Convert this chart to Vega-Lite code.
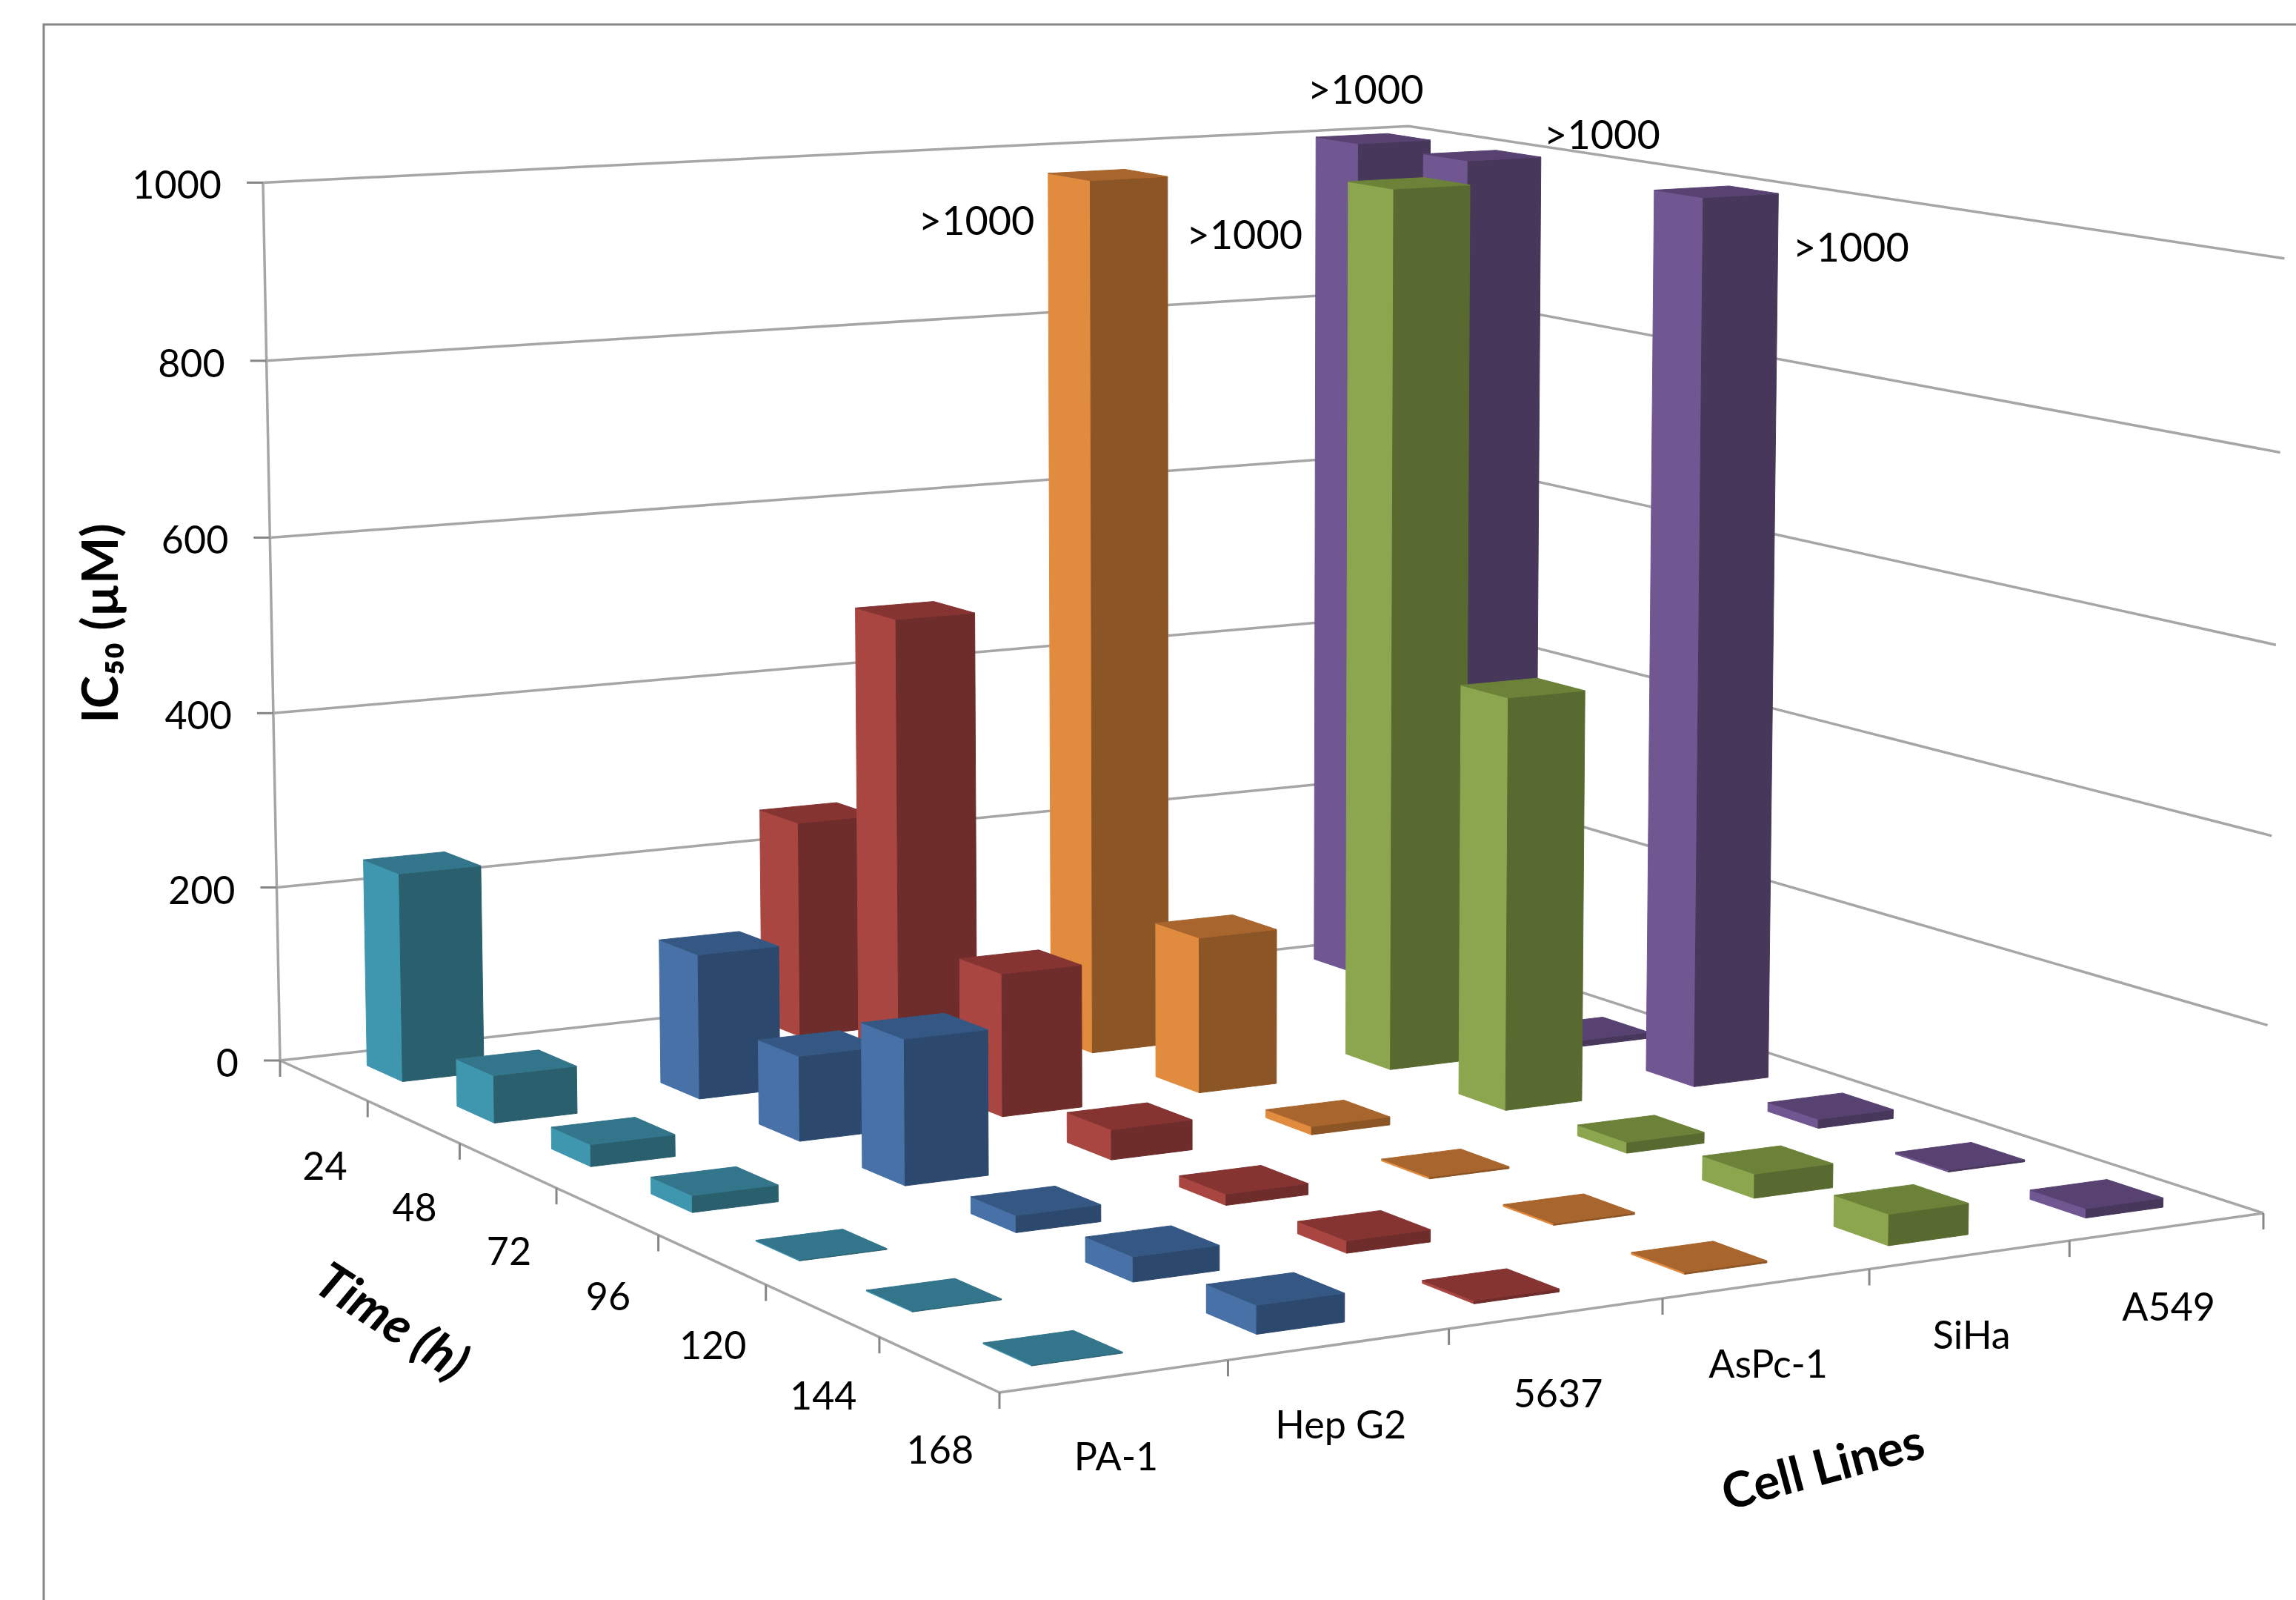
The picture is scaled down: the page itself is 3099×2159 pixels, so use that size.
{
  "$schema": "https://vega.github.io/schema/vega-lite/v6.json",
  "width": 3045,
  "height": 2131,
  "autosize": {"type": "none"},
  "padding": {"left": 59, "top": 33, "right": 0, "bottom": 0},
  "background": "#ffffff",
  "view": {"stroke": "#868686", "strokeWidth": 3, "fill": "#ffffff"},
  "config": {"text": {"font": "Lato", "fontSize": 52, "color": "#000000"}},
  "datasets": {
    "ic50": [
      {"line": "A549", "time": 24, "value": 1000},
      {"line": "PA-1", "time": 24, "value": 237},
      {"line": "5637", "time": 24, "value": 250},
      {"line": "A549", "time": 48, "value": 1000},
      {"line": "AsPc-1", "time": 48, "value": 1000},
      {"line": "5637", "time": 48, "value": 520},
      {"line": "Hep G2", "time": 48, "value": 163},
      {"line": "PA-1", "time": 48, "value": 53},
      {"line": "A549", "time": 72, "value": 7},
      {"line": "SiHa", "time": 72, "value": 1000},
      {"line": "AsPc-1", "time": 72, "value": 176},
      {"line": "5637", "time": 72, "value": 160},
      {"line": "Hep G2", "time": 72, "value": 94},
      {"line": "PA-1", "time": 72, "value": 24},
      {"line": "A549", "time": 96, "value": 1000},
      {"line": "SiHa", "time": 96, "value": 462},
      {"line": "AsPc-1", "time": 96, "value": 9},
      {"line": "5637", "time": 96, "value": 33},
      {"line": "Hep G2", "time": 96, "value": 158},
      {"line": "PA-1", "time": 96, "value": 18},
      {"line": "A549", "time": 120, "value": 10},
      {"line": "SiHa", "time": 120, "value": 12},
      {"line": "AsPc-1", "time": 120, "value": 2},
      {"line": "5637", "time": 120, "value": 12},
      {"line": "Hep G2", "time": 120, "value": 18},
      {"line": "PA-1", "time": 120, "value": 1},
      {"line": "A549", "time": 144, "value": 2},
      {"line": "SiHa", "time": 144, "value": 26},
      {"line": "AsPc-1", "time": 144, "value": 2},
      {"line": "5637", "time": 144, "value": 13},
      {"line": "Hep G2", "time": 144, "value": 26},
      {"line": "PA-1", "time": 144, "value": 1},
      {"line": "A549", "time": 168, "value": 10},
      {"line": "SiHa", "time": 168, "value": 33},
      {"line": "AsPc-1", "time": 168, "value": 2},
      {"line": "5637", "time": 168, "value": 3},
      {"line": "Hep G2", "time": 168, "value": 29},
      {"line": "PA-1", "time": 168, "value": 1}
    ],
    "frameEdges": [
      {"edge": "level 0", "cellPos": 0, "timePos": 0, "level": 0},
      {"edge": "level 0", "cellPos": 6, "timePos": 0, "level": 0},
      {"edge": "level 0", "cellPos": 6, "timePos": 7, "level": 0},
      {"edge": "level 200", "cellPos": 0, "timePos": 0, "level": 200},
      {"edge": "level 200", "cellPos": 6, "timePos": 0, "level": 200},
      {"edge": "level 200", "cellPos": 6, "timePos": 7, "level": 200},
      {"edge": "level 400", "cellPos": 0, "timePos": 0, "level": 400},
      {"edge": "level 400", "cellPos": 6, "timePos": 0, "level": 400},
      {"edge": "level 400", "cellPos": 6, "timePos": 7, "level": 400},
      {"edge": "level 600", "cellPos": 0, "timePos": 0, "level": 600},
      {"edge": "level 600", "cellPos": 6, "timePos": 0, "level": 600},
      {"edge": "level 600", "cellPos": 6, "timePos": 7, "level": 600},
      {"edge": "level 800", "cellPos": 0, "timePos": 0, "level": 800},
      {"edge": "level 800", "cellPos": 6, "timePos": 0, "level": 800},
      {"edge": "level 800", "cellPos": 6, "timePos": 7, "level": 800},
      {"edge": "level 1000", "cellPos": 0, "timePos": 0, "level": 1000},
      {"edge": "level 1000", "cellPos": 6, "timePos": 0, "level": 1000},
      {"edge": "level 1000", "cellPos": 6, "timePos": 7, "level": 1000},
      {"edge": "value axis", "cellPos": 0, "timePos": 0, "level": 0},
      {"edge": "value axis", "cellPos": 0, "timePos": 0, "level": 1000},
      {"edge": "time axis", "cellPos": 0, "timePos": 0, "level": 0},
      {"edge": "time axis", "cellPos": 0, "timePos": 7, "level": 0},
      {"edge": "cell axis", "cellPos": 0, "timePos": 7, "level": 0},
      {"edge": "cell axis", "cellPos": 6, "timePos": 7, "level": 0}
    ],
    "ticks": [
      {"axis": "value", "cellPos": 0, "timePos": 0, "level": 0},
      {"axis": "value", "cellPos": 0, "timePos": 0, "level": 200},
      {"axis": "value", "cellPos": 0, "timePos": 0, "level": 400},
      {"axis": "value", "cellPos": 0, "timePos": 0, "level": 600},
      {"axis": "value", "cellPos": 0, "timePos": 0, "level": 800},
      {"axis": "value", "cellPos": 0, "timePos": 0, "level": 1000},
      {"axis": "time", "cellPos": 0, "timePos": 0, "level": 0},
      {"axis": "time", "cellPos": 0, "timePos": 1, "level": 0},
      {"axis": "time", "cellPos": 0, "timePos": 2, "level": 0},
      {"axis": "time", "cellPos": 0, "timePos": 3, "level": 0},
      {"axis": "time", "cellPos": 0, "timePos": 4, "level": 0},
      {"axis": "time", "cellPos": 0, "timePos": 5, "level": 0},
      {"axis": "time", "cellPos": 0, "timePos": 6, "level": 0},
      {"axis": "time", "cellPos": 0, "timePos": 7, "level": 0},
      {"axis": "cell", "cellPos": 1, "timePos": 7, "level": 0},
      {"axis": "cell", "cellPos": 2, "timePos": 7, "level": 0},
      {"axis": "cell", "cellPos": 3, "timePos": 7, "level": 0},
      {"axis": "cell", "cellPos": 4, "timePos": 7, "level": 0},
      {"axis": "cell", "cellPos": 5, "timePos": 7, "level": 0},
      {"axis": "cell", "cellPos": 6, "timePos": 7, "level": 0}
    ]
  },
  "encoding": {
    "x": {"field": "px", "type": "quantitative", "axis": null, "scale": {"domain": [59, 3104], "nice": false, "zero": false}},
    "y": {"field": "py", "type": "quantitative", "axis": null, "scale": {"domain": [2164, 33], "nice": false, "zero": false}}
  },
  "layer": [
    {
      "data": {"name": "frameEdges"},
      "transform": [
        {"calculate": "0.08618*datum.cellPos/6-0.16811*datum.timePos/7+1-0.018*datum.level/1000", "as": "w"},
        {"calculate": "(1682.5*datum.cellPos/6+744.2*datum.timePos/7+378-29.4*datum.level/1000)/datum.w", "as": "px"},
        {"calculate": "(-60.2*datum.cellPos/6+132.1*datum.timePos/7+1431-1189*datum.level/1000)/datum.w", "as": "py"}
      ],
      "mark": {"type": "line", "color": "#a6a6a6", "strokeWidth": 3.5, "clip": false},
      "encoding": {"detail": {"field": "edge"}}
    },
    {
      "data": {"name": "ticks"},
      "transform": [
        {"calculate": "0.08618*datum.cellPos/6-0.16811*datum.timePos/7+1-0.018*datum.level/1000", "as": "w"},
        {"calculate": "(1682.5*datum.cellPos/6+744.2*datum.timePos/7+378-29.4*datum.level/1000)/datum.w", "as": "px"},
        {"calculate": "(-60.2*datum.cellPos/6+132.1*datum.timePos/7+1431-1189*datum.level/1000)/datum.w", "as": "py"},
        {"calculate": "datum.axis=='value' ? datum.px-22 : datum.px", "as": "tickX"},
        {"calculate": "datum.axis=='value' ? datum.py : datum.py+22", "as": "tickY"}
      ],
      "mark": {"type": "rule", "color": "#868686", "strokeWidth": 3},
      "encoding": {
        "x2": {"field": "tickX"},
        "y2": {"field": "tickY"}
      }
    },
    {
      "data": {"name": "ic50"},
      "transform": [
        {"calculate": "['L','F','T']", "as": "face"},
        {"flatten": ["face"]},
        {"calculate": "[0,1,2,3]", "as": "corner"},
        {"flatten": ["corner"]},
        {"calculate": "indexof(['PA-1','Hep G2','5637','AsPc-1','SiHa','A549'],datum.line)", "as": "cellIdx"},
        {"calculate": "(datum.time-24)/24", "as": "timeIdx"},
        {"calculate": "datum.face=='L' ? datum.cellIdx+0.3 : ((datum.corner==1||datum.corner==2) ? datum.cellIdx+0.7 : datum.cellIdx+0.3)", "as": "cellPos"},
        {"calculate": "datum.face=='L' ? ((datum.corner==1||datum.corner==2) ? datum.timeIdx+0.7 : datum.timeIdx+0.3) : (datum.face=='F' ? datum.timeIdx+0.7 : (datum.corner>=2 ? datum.timeIdx+0.7 : datum.timeIdx+0.3))", "as": "timePos"},
        {"calculate": "datum.face=='T' ? datum.value : (datum.corner>=2 ? datum.value : 0)", "as": "level"},
        {"calculate": "0.08618*datum.cellPos/6-0.16811*datum.timePos/7+1-0.018*datum.level/1000", "as": "w"},
        {"calculate": "(1682.5*datum.cellPos/6+744.2*datum.timePos/7+378-29.4*datum.level/1000)/datum.w", "as": "px"},
        {"calculate": "(-60.2*datum.cellPos/6+132.1*datum.timePos/7+1431-1189*datum.level/1000)/datum.w", "as": "py"},
        {"calculate": "'t'+datum.time+' '+datum.line+' '+datum.face", "as": "faceId"},
        {"calculate": "datum.line+' '+datum.face", "as": "shade"}
      ],
      "mark": {"type": "line", "interpolate": "linear-closed", "strokeWidth": 1},
      "encoding": {
        "detail": {"field": "faceId"},
        "order": {"field": "corner"},
        "fill": {
          "field": "shade", "type": "nominal", "legend": null,
          "scale": {
            "domain": ["PA-1 L","PA-1 F","PA-1 T","Hep G2 L","Hep G2 F","Hep G2 T","5637 L","5637 F","5637 T","AsPc-1 L","AsPc-1 F","AsPc-1 T","SiHa L","SiHa F","SiHa T","A549 L","A549 F","A549 T"],
            "range": ["#3f97af","#2a5f6e","#33758a","#4771a7","#2c486c","#345883","#a94641","#6e2c2a","#853432","#e18b3e","#8c5526","#a8652d","#8ba64e","#596a30","#6b8238","#715791","#47375a","#574271"]
          }
        },
        "stroke": {
          "field": "shade", "type": "nominal", "legend": null,
          "scale": {
            "domain": ["PA-1 L","PA-1 F","PA-1 T","Hep G2 L","Hep G2 F","Hep G2 T","5637 L","5637 F","5637 T","AsPc-1 L","AsPc-1 F","AsPc-1 T","SiHa L","SiHa F","SiHa T","A549 L","A549 F","A549 T"],
            "range": ["#3f97af","#2a5f6e","#33758a","#4771a7","#2c486c","#345883","#a94641","#6e2c2a","#853432","#e18b3e","#8c5526","#a8652d","#8ba64e","#596a30","#6b8238","#715791","#47375a","#574271"]
          }
        }
      }
    },
    {
      "data": {"values": [{"level": 0}, {"level": 200}, {"level": 400}, {"level": 600}, {"level": 800}, {"level": 1000}]},
      "transform": [
        {"calculate": "1-0.018*datum.level/1000", "as": "w"},
        {"calculate": "(378-29.4*datum.level/1000)/datum.w", "as": "px"},
        {"calculate": "(1431-1189*datum.level/1000)/datum.w", "as": "py"}
      ],
      "mark": {"type": "text", "align": "right", "baseline": "middle", "dx": -56, "dy": 6},
      "encoding": {"text": {"field": "level", "type": "nominal"}}
    },
    {
      "data": {"values": [{"time": 24}, {"time": 48}, {"time": 72}, {"time": 96}, {"time": 120}, {"time": 144}, {"time": 168}]},
      "transform": [
        {"calculate": "(datum.time-24)/24+0.5", "as": "timePos"},
        {"calculate": "1-0.16811*datum.timePos/7", "as": "w"},
        {"calculate": "(744.2*datum.timePos/7+378)/datum.w", "as": "px"},
        {"calculate": "(132.1*datum.timePos/7+1431)/datum.w", "as": "py"}
      ],
      "mark": {"type": "text", "align": "center", "baseline": "middle", "dx": 2, "dy": 118},
      "encoding": {"text": {"field": "time", "type": "nominal"}}
    },
    {
      "data": {"values": [{"line": "PA-1"}, {"line": "Hep G2"}, {"line": "5637"}, {"line": "AsPc-1"}, {"line": "SiHa"}, {"line": "A549"}]},
      "transform": [
        {"calculate": "indexof(['PA-1','Hep G2','5637','AsPc-1','SiHa','A549'],datum.line)+0.5", "as": "cellPos"},
        {"calculate": "0.08618*datum.cellPos/6-0.16811+1", "as": "w"},
        {"calculate": "(1682.5*datum.cellPos/6+744.2+378)/datum.w", "as": "px"},
        {"calculate": "(-60.2*datum.cellPos/6+132.1+1431)/datum.w", "as": "py"}
      ],
      "mark": {"type": "text", "align": "center", "baseline": "middle", "dx": 2, "dy": 111},
      "encoding": {"text": {"field": "line", "type": "nominal"}}
    },
    {
      "data": {"values": [{"title": "Time (h)", "cellPos": 0, "timePos": 3.5, "level": 0}]},
      "transform": [
        {"calculate": "0.08618*datum.cellPos/6-0.16811*datum.timePos/7+1-0.018*datum.level/1000", "as": "w"},
        {"calculate": "(1682.5*datum.cellPos/6+744.2*datum.timePos/7+378-29.4*datum.level/1000)/datum.w", "as": "px"},
        {"calculate": "(-60.2*datum.cellPos/6+132.1*datum.timePos/7+1431-1189*datum.level/1000)/datum.w", "as": "py"}
      ],
      "mark": {"type": "text", "align": "center", "baseline": "middle", "fontWeight": "bold", "fontStyle": "italic", "fontSize": 68, "angle": 33, "dx": -162, "dy": 286},
      "encoding": {"text": {"field": "title", "type": "nominal"}}
    },
    {
      "data": {"values": [{"title": "Cell Lines", "cellPos": 3, "timePos": 7, "level": 0}]},
      "transform": [
        {"calculate": "0.08618*datum.cellPos/6-0.16811*datum.timePos/7+1-0.018*datum.level/1000", "as": "w"},
        {"calculate": "(1682.5*datum.cellPos/6+744.2*datum.timePos/7+378-29.4*datum.level/1000)/datum.w", "as": "px"},
        {"calculate": "(-60.2*datum.cellPos/6+132.1*datum.timePos/7+1431-1189*datum.level/1000)/datum.w", "as": "py"}
      ],
      "mark": {"type": "text", "align": "center", "baseline": "middle", "fontWeight": "bold", "fontSize": 66, "angle": 345, "dx": 150, "dy": 279},
      "encoding": {"text": {"field": "title", "type": "nominal"}}
    },
    {
      "data": {"values": [{"title": "IC₅₀ (µM)", "cellPos": 0, "timePos": 0, "level": 500}]},
      "transform": [
        {"calculate": "0.08618*datum.cellPos/6-0.16811*datum.timePos/7+1-0.018*datum.level/1000", "as": "w"},
        {"calculate": "(1682.5*datum.cellPos/6+744.2*datum.timePos/7+378-29.4*datum.level/1000)/datum.w", "as": "px"},
        {"calculate": "(-60.2*datum.cellPos/6+132.1*datum.timePos/7+1431-1189*datum.level/1000)/datum.w", "as": "py"}
      ],
      "mark": {"type": "text", "align": "center", "baseline": "middle", "fontWeight": "bold", "fontSize": 67, "angle": 270, "dx": 3, "dy": -228},
      "encoding": {"text": {"field": "title", "type": "nominal"}}
    },
    {
      "data": {"name": "ic50"},
      "transform": [
        {"filter": "datum.value>=1000 && datum.line=='AsPc-1'"},
        {"calculate": "indexof(['PA-1','Hep G2','5637','AsPc-1','SiHa','A549'],datum.line)+0.5", "as": "cellPos"},
        {"calculate": "(datum.time-24)/24+0.5", "as": "timePos"},
        {"calculate": "0.08618*datum.cellPos/6-0.16811*datum.timePos/7+1-0.018", "as": "w"},
        {"calculate": "(1682.5*datum.cellPos/6+744.2*datum.timePos/7+378-29.4)/datum.w", "as": "px"},
        {"calculate": "(-60.2*datum.cellPos/6+132.1*datum.timePos/7+1431-1189)/datum.w", "as": "py"}
      ],
      "mark": {"type": "text", "text": ">1000", "fontSize": 54, "align": "center", "baseline": "middle", "dx": -177, "dy": 65}
    },
    {
      "data": {"name": "ic50"},
      "transform": [
        {"filter": "datum.value>=1000 && datum.line=='SiHa'"},
        {"calculate": "indexof(['PA-1','Hep G2','5637','AsPc-1','SiHa','A549'],datum.line)+0.5", "as": "cellPos"},
        {"calculate": "(datum.time-24)/24+0.5", "as": "timePos"},
        {"calculate": "0.08618*datum.cellPos/6-0.16811*datum.timePos/7+1-0.018", "as": "w"},
        {"calculate": "(1682.5*datum.cellPos/6+744.2*datum.timePos/7+378-29.4)/datum.w", "as": "px"},
        {"calculate": "(-60.2*datum.cellPos/6+132.1*datum.timePos/7+1431-1189)/datum.w", "as": "py"}
      ],
      "mark": {"type": "text", "text": ">1000", "fontSize": 54, "align": "center", "baseline": "middle", "dx": -222, "dy": 73}
    },
    {
      "data": {"name": "ic50"},
      "transform": [
        {"filter": "datum.value>=1000 && datum.line=='A549' && datum.time==24"},
        {"calculate": "indexof(['PA-1','Hep G2','5637','AsPc-1','SiHa','A549'],datum.line)+0.5", "as": "cellPos"},
        {"calculate": "(datum.time-24)/24+0.5", "as": "timePos"},
        {"calculate": "0.08618*datum.cellPos/6-0.16811*datum.timePos/7+1-0.018", "as": "w"},
        {"calculate": "(1682.5*datum.cellPos/6+744.2*datum.timePos/7+378-29.4)/datum.w", "as": "px"},
        {"calculate": "(-60.2*datum.cellPos/6+132.1*datum.timePos/7+1431-1189)/datum.w", "as": "py"}
      ],
      "mark": {"type": "text", "text": ">1000", "fontSize": 54, "align": "center", "baseline": "middle", "dx": -10, "dy": -63}
    },
    {
      "data": {"name": "ic50"},
      "transform": [
        {"filter": "datum.value>=1000 && datum.line=='A549' && datum.time==48"},
        {"calculate": "indexof(['PA-1','Hep G2','5637','AsPc-1','SiHa','A549'],datum.line)+0.5", "as": "cellPos"},
        {"calculate": "(datum.time-24)/24+0.5", "as": "timePos"},
        {"calculate": "0.08618*datum.cellPos/6-0.16811*datum.timePos/7+1-0.018", "as": "w"},
        {"calculate": "(1682.5*datum.cellPos/6+744.2*datum.timePos/7+378-29.4)/datum.w", "as": "px"},
        {"calculate": "(-60.2*datum.cellPos/6+132.1*datum.timePos/7+1431-1189)/datum.w", "as": "py"}
      ],
      "mark": {"type": "text", "text": ">1000", "fontSize": 54, "align": "center", "baseline": "middle", "dx": 162, "dy": -25}
    },
    {
      "data": {"name": "ic50"},
      "transform": [
        {"filter": "datum.value>=1000 && datum.line=='A549' && datum.time==96"},
        {"calculate": "indexof(['PA-1','Hep G2','5637','AsPc-1','SiHa','A549'],datum.line)+0.5", "as": "cellPos"},
        {"calculate": "(datum.time-24)/24+0.5", "as": "timePos"},
        {"calculate": "0.08618*datum.cellPos/6-0.16811*datum.timePos/7+1-0.018", "as": "w"},
        {"calculate": "(1682.5*datum.cellPos/6+744.2*datum.timePos/7+378-29.4)/datum.w", "as": "px"},
        {"calculate": "(-60.2*datum.cellPos/6+132.1*datum.timePos/7+1431-1189)/datum.w", "as": "py"}
      ],
      "mark": {"type": "text", "text": ">1000", "fontSize": 54, "align": "center", "baseline": "middle", "dx": 182, "dy": 78}
    }
  ]
}
